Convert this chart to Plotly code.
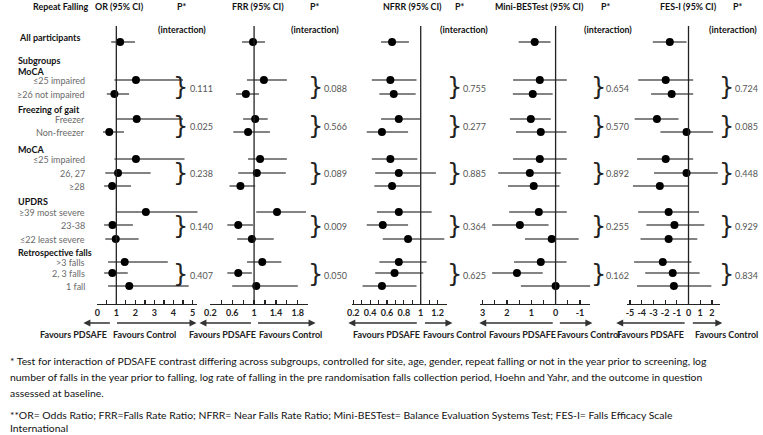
import plotly.graph_objects as go

W, H = 763, 435

# ---------------- data ----------------
row_labels = ["All participants", "≤25 impaired", "≥26 not impaired", "Freezer", "Non-freezer",
              "≤25 impaired", "26, 27", "≥28", "≥39 most severe", "23-38", "≤22 least severe",
              ">3 falls", "2, 3 falls", "1 fall"]
group_labels = ["Subgroups", "MoCA", "Freezing of gait", "MoCA", "UPDRS", "Retrospective falls"]
group_rows = [[1, 2], [3, 4], [5, 6, 7], [8, 9, 10], [11, 12, 13]]

or_est = [1.20, 2.03, 0.90, 2.07, 0.63, 2.03, 1.09, 0.78, 2.55, 0.80, 0.97, 1.44, 0.79, 1.68]
or_lo = [0.73, 0.90, 0.50, 1.00, 0.30, 0.90, 0.42, 0.36, 1.00, 0.36, 0.42, 0.57, 0.36, 0.57]
or_hi = [1.98, 4.50, 1.67, 4.50, 1.40, 4.58, 2.80, 1.77, 5.30, 1.87, 2.17, 3.70, 1.60, 4.80]
or_p = ["0.111", "0.025", "0.238", "0.140", "0.407"]

frr_est = [0.98, 1.18, 0.85, 1.02, 0.89, 1.11, 1.05, 0.75, 1.42, 0.71, 0.96, 1.15, 0.71, 1.04]
frr_lo = [0.78, 0.87, 0.67, 0.80, 0.62, 0.89, 0.71, 0.55, 1.04, 0.51, 0.69, 0.87, 0.51, 0.60]
frr_hi = [1.20, 1.60, 1.09, 1.25, 1.29, 1.60, 1.58, 1.02, 1.95, 0.98, 1.36, 1.50, 0.96, 1.80]
frr_p = ["0.088", "0.566", "0.089", "0.009", "0.050"]

nfrr_est = [0.66, 0.64, 0.68, 0.74, 0.54, 0.64, 0.74, 0.66, 0.74, 0.55, 0.85, 0.74, 0.69, 0.54]
nfrr_lo = [0.53, 0.42, 0.51, 0.53, 0.36, 0.42, 0.46, 0.45, 0.48, 0.36, 0.55, 0.51, 0.46, 0.31]
nfrr_hi = [0.86, 0.95, 0.94, 1.00, 0.85, 0.96, 1.18, 0.99, 1.13, 0.85, 1.28, 1.07, 1.03, 0.95]
nfrr_p = ["0.755", "0.277", "0.885", "0.364", "0.625"]

mb_est = [0.86, 0.65, 0.94, 1.02, 0.61, 0.65, 1.06, 0.90, 0.69, 1.47, 0.16, 0.61, 1.59, 0.00]
mb_lo = [1.51, 1.76, 1.76, 1.84, 1.67, 1.76, 2.33, 1.96, 1.84, 2.65, 1.27, 1.67, 2.65, 1.43]
mb_hi = [0.20, -0.45, 0.12, 0.16, -0.41, -0.45, -0.24, -0.16, -0.53, 0.33, -0.94, -0.49, 0.57, -1.43]
mb_p = ["0.654", "0.570", "0.892", "0.255", "0.162"]

fes_est = [-1.60, -1.95, -1.44, -2.70, -0.17, -1.95, -0.17, -2.45, -1.70, -1.20, -1.70, -2.20, -1.35, -1.25]
fes_lo = [-3.05, -4.30, -3.20, -4.60, -2.40, -4.40, -2.95, -4.75, -4.30, -3.60, -4.10, -4.65, -3.70, -4.40]
fes_hi = [-0.17, 0.40, 0.40, -0.85, 2.10, 0.40, 2.50, 0.00, 0.90, 1.35, 0.75, 0.25, 0.95, 1.95]
fes_p = ["0.724", "0.085", "0.448", "0.929", "0.834"]

or_ticks = [0, 1, 2, 3, 4, 5]
frr_ticks = [0.2, 0.6, 1, 1.4, 1.8]
nfrr_ticks = [0.2, 0.4, 0.6, 0.8, 1, 1.2]
mb_ticks = [3, 2, 1, 0, -1]
fes_ticks = [-5, -4, -3, -2, -1, 0, 1, 2]

titles = ["OR (95% CI)", "FRR (95% CI)", "NFRR (95% CI)", "Mini-BESTest (95% CI)", "FES-I (95% CI)"]

footnotes = [
    "* Test for interaction of PDSAFE contrast differing across subgroups, controlled for site, age, gender, repeat falling or not in the year prior to screening, log",
    "number of falls in the year prior to falling, log rate of falling in the pre randomisation falls collection period, Hoehn and Yahr, and the outcome in question",
    "assessed at baseline.",
    "**OR= Odds Ratio; FRR=Falls Rate Ratio; NFRR= Near Falls Rate Ratio; Mini-BESTest= Balance Evaluation Systems Test; FES-I= Falls Efficacy Scale",
    "International",
]

# ---------------- layout (pixel positions) ----------------
FONT = "Lato"
ROW_Y = [42, 80, 94, 119, 132, 159, 173, 186, 212, 225, 239, 262, 273, 286]
GROUP_Y = [60, 71, 109, 149, 201, 252]
AXIS_Y = 304
REF_TOP = 26
ARROW_Y = 323
FAV_Y = 334
FOOT_Y = [361, 377, 393, 415, 428]

HB = dict(family=FONT, size=8.9, color="#111", weight="bold")

panels = [
    dict(est=or_est, lo=or_lo, hi=or_hi, p=or_p, ticks=or_ticks, px=(92, 193), rng=[0, 5.26],
         minor=0.5, ref=1, brace=176, ptx=183, title_c=114, pstar=177, inter=177,
         arrows=((78, 106), (111, 192)), fav=(68, 140)),
    dict(est=frr_est, lo=frr_lo, hi=frr_hi, p=frr_p, ticks=frr_ticks, px=(206, 304), rng=[0.2, 1.98],
         minor=0.2, ref=1, brace=312, ptx=319, title_c=254, pstar=311, inter=311,
         arrows=((195, 248), (253, 312)), fav=(218, 287)),
    dict(est=nfrr_est, lo=nfrr_lo, hi=nfrr_hi, p=nfrr_p, ticks=nfrr_ticks, px=(349, 444), rng=[0.188, 1.306],
         minor=0.1, ref=1, brace=452, ptx=459, title_c=410, pstar=457, inter=462,
         arrows=((345, 415), (421, 450)), fav=(384, 452)),
    dict(est=mb_est, lo=mb_lo, hi=mb_hi, p=mb_p, ticks=mb_ticks, px=(478, 589), rng=[3.1, -1.43],
         minor=0.5, ref=0, brace=597, ptx=603, title_c=538, pstar=604, inter=607,
         arrows=((477, 552), (557, 591)), fav=(521, 587)),
    dict(est=fes_est, lo=fes_lo, hi=fes_hi, p=fes_p, ticks=fes_ticks, px=(626, 720), rng=[-5.25, 2.72],
         minor=None, ref=0, brace=726, ptx=733, title_c=688, pstar=737, inter=733,
         arrows=((615, 685), (691, 722)), fav=(650, 726)),
]

fig = go.Figure()
annotations = []
shapes = []
layout_axes = {}

for i, pn in enumerate(panels):
    n = i + 1
    xname = "x" if n == 1 else f"x{n}"
    lname = "xaxis" if n == 1 else f"xaxis{n}"
    fig.add_trace(go.Scatter(
        x=pn["est"], y=ROW_Y, mode="markers", xaxis=xname, yaxis="y",
        marker=dict(color="black", size=8),
        error_x=dict(type="data", symmetric=False,
                     array=[abs(h - e) for h, e in zip(pn["hi"], pn["est"])],
                     arrayminus=[abs(e - l) for e, l in zip(pn["est"], pn["lo"])],
                     color="#5a5a5a", thickness=1.3, width=0),
        cliponaxis=False, hoverinfo="skip", showlegend=False))
    ax = dict(domain=[pn["px"][0] / W, pn["px"][1] / W], range=pn["rng"], anchor="free",
              position=1 - AXIS_Y / H, showgrid=False, zeroline=False, showline=True,
              linecolor="#222", linewidth=1.3, ticks="inside", ticklen=4, tickwidth=1.2,
              tickcolor="#222", tickvals=pn["ticks"],
              ticktext=[f"{t:g}" for t in pn["ticks"]],
              tickfont=dict(family=FONT, size=9, color="#222", weight="bold"),
              fixedrange=True)
    if pn["minor"]:
        ax["minor"] = dict(ticks="inside", dtick=pn["minor"], ticklen=4, tickwidth=1.2,
                           tickcolor="#222", showgrid=False, tick0=0)
    layout_axes[lname] = ax
    # reference line
    shapes.append(dict(type="line", xref=xname, yref="y", x0=pn["ref"], x1=pn["ref"],
                       y0=REF_TOP, y1=AXIS_Y, line=dict(color="#222", width=1.3)))
    # braces and p-values
    for g, rows in enumerate(group_rows):
        ys = [ROW_Y[r] for r in rows]
        mid = (ys[0] + ys[-1]) / 2
        annotations.append(dict(x=pn["brace"] / W, xref="paper", y=mid, yref="y", text="}",
                                showarrow=False, font=dict(family="DejaVu Sans", size=24, color="#222"),
                                xanchor="center", yanchor="middle"))
        annotations.append(dict(x=pn["ptx"] / W, xref="paper", y=mid + 1, yref="y", text=pn["p"][g],
                                showarrow=False, font=dict(family=FONT, size=9, color="#555"),
                                xanchor="left", yanchor="middle"))
    # headers
    annotations.append(dict(x=pn["title_c"] / W, xref="paper", y=6, yref="y", text=titles[i],
                            showarrow=False, font=HB, xanchor="center", yanchor="middle"))
    annotations.append(dict(x=pn["pstar"] / W, xref="paper", y=6, yref="y", text="P*",
                            showarrow=False, font=HB, xanchor="center", yanchor="middle"))
    annotations.append(dict(x=pn["inter"] / W, xref="paper", y=29, yref="y",
                            text="(interaction)", showarrow=False, font=HB,
                            xanchor="center", yanchor="middle"))
    # arrows
    (lh, lt), (rt, rh) = pn["arrows"]
    for head, tail in ((lh, lt), (rh, rt)):
        annotations.append(dict(x=head / W, xref="paper", y=ARROW_Y, yref="y", text="",
                                showarrow=True, ax=tail - head, ay=0, axref="pixel", ayref="pixel",
                                arrowhead=2, arrowsize=1, arrowwidth=1.4, arrowcolor="#333"))
    # favours
    for c, t in zip(pn["fav"], ("Favours PDSAFE", "Favours Control")):
        annotations.append(dict(x=c / W, xref="paper", y=FAV_Y, yref="y", text=t, showarrow=False,
                                font=dict(family=FONT, size=9, color="#222", weight="bold"),
                                xanchor="center", yanchor="middle"))

# row labels
annotations.append(dict(x=55 / W, xref="paper", y=6, yref="y", text="Repeat Falling", showarrow=False,
                        font=HB, xanchor="center", yanchor="middle"))
annotations.append(dict(x=11 / W, xref="paper", y=37, yref="y", text=row_labels[0], showarrow=False,
                        font=dict(family=FONT, size=9, color="#111", weight="bold"),
                        xanchor="left", yanchor="middle"))
for lab, y in zip(group_labels, GROUP_Y):
    annotations.append(dict(x=10 / W, xref="paper", y=y, yref="y", text=lab, showarrow=False,
                            font=dict(family=FONT, size=9, color="#111", weight="bold"),
                            xanchor="left", yanchor="middle"))
for lab, y in zip(row_labels[1:], ROW_Y[1:]):
    annotations.append(dict(x=82 / W, xref="paper", y=y, yref="y", text=lab, showarrow=False,
                            font=dict(family=FONT, size=9, color="#6a6a6a"),
                            xanchor="right", yanchor="middle"))

# footnotes
for t, y in zip(footnotes, FOOT_Y):
    annotations.append(dict(x=2 / W, xref="paper", y=y, yref="y", text=t, showarrow=False,
                            font=dict(family=FONT, size=10.4, color="#111"),
                            xanchor="left", yanchor="middle"))

fig.update_layout(
    width=W, height=H, margin=dict(l=0, r=0, t=0, b=0),
    paper_bgcolor="white", plot_bgcolor="white",
    yaxis=dict(domain=[0, 1], range=[H, 0], visible=False, fixedrange=True, anchor="free", position=0),
    annotations=annotations, shapes=shapes, showlegend=False,
    **layout_axes,
)

fig.write_html("out.html", config={"displayModeBar": False, "staticPlot": True},
               post_script="document.body.style.margin='0';document.body.style.overflow='hidden';")
